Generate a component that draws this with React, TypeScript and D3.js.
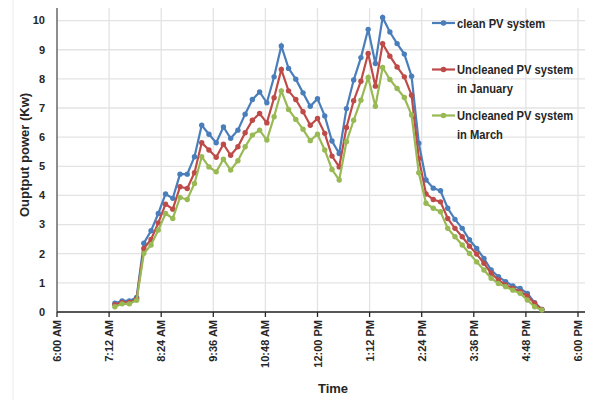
import React from "react";
import * as d3 from "d3";

const times = [
  "7:20","7:30","7:40","7:50","8:00","8:10","8:20","8:30","8:40","8:50",
  "9:00","9:10","9:20","9:30","9:40","9:50","10:00","10:10","10:20","10:30",
  "10:40","10:50","11:00","11:10","11:20","11:30","11:40","11:50","12:00","12:10",
  "12:20","12:30","12:40","12:50","13:00","13:10","13:20","13:30","13:40","13:50",
  "14:00","14:10","14:20","14:30","14:40","14:50","15:00","15:10","15:20","15:30",
  "15:40","15:50","16:00","16:10","16:20","16:30","16:40","16:50","17:00","17:10",
];

const cleanPV = [
  0.30, 0.38, 0.38, 0.50, 2.36, 2.79, 3.38, 4.05, 3.90, 4.73,
  4.73, 5.33, 6.41, 6.10, 5.81, 6.35, 5.96, 6.24, 6.79, 7.29,
  7.55, 7.18, 8.07, 9.13, 8.36, 7.99, 7.52, 7.06, 7.32, 6.73,
  5.87, 5.44, 6.98, 7.96, 8.73, 9.70, 8.53, 10.11, 9.61, 9.21,
  8.85, 8.09, 5.79, 4.53, 4.25, 4.16, 3.56, 3.18, 2.87, 2.48,
  2.18, 1.84, 1.44, 1.21, 1.04, 0.89, 0.81, 0.64, 0.32, 0.09,
];

const uncleanedJanuary = [
  0.25, 0.33, 0.33, 0.45, 2.18, 2.49, 3.06, 3.70, 3.53, 4.30,
  4.24, 4.78, 5.81, 5.56, 5.31, 5.76, 5.38, 5.67, 6.15, 6.58,
  6.81, 6.49, 7.35, 8.32, 7.59, 7.29, 6.87, 6.41, 6.64, 6.13,
  5.35, 4.98, 6.33, 7.25, 7.92, 8.87, 7.75, 9.21, 8.78, 8.41,
  8.07, 7.44, 5.27, 4.05, 3.86, 3.78, 3.21, 2.87, 2.58, 2.26,
  1.99, 1.67, 1.33, 1.10, 0.93, 0.81, 0.70, 0.55, 0.30, 0.09,
];

const uncleanedMarch = [
  0.18, 0.28, 0.28, 0.40, 2.01, 2.30, 2.81, 3.38, 3.21, 3.93,
  3.86, 4.41, 5.33, 4.98, 4.81, 5.24, 4.87, 5.19, 5.67, 6.07,
  6.24, 5.90, 6.70, 7.59, 6.95, 6.61, 6.27, 5.88, 6.10, 5.56,
  4.89, 4.53, 5.84, 6.58, 7.27, 8.05, 7.06, 8.39, 7.98, 7.67,
  7.36, 6.76, 4.78, 3.73, 3.56, 3.44, 2.87, 2.58, 2.30, 2.01,
  1.72, 1.44, 1.16, 0.98, 0.87, 0.75, 0.64, 0.41, 0.18, 0.07,
];

const xTickLabels = [
  "6:00 AM","7:12 AM","8:24 AM","9:36 AM","10:48 AM","12:00 PM",
  "1:12 PM","2:24 PM","3:36 PM","4:48 PM","6:00 PM",
];
const yTicks = [0, 1, 2, 3, 4, 5, 6, 7, 8, 9, 10];

const seriesNames = [
  ["clean PV system"],
  ["Uncleaned PV system", "in January"],
  ["Uncleaned PV system", "in March"],
];
const seriesColors = ["#4A7EBB", "#BE4B48", "#98B954"];

const toMin = (s: string) => {
  const [h, m] = s.split(":").map(Number);
  return h * 60 + m;
};
const parseTick = (s: string) => {
  const [hm, ap] = s.split(" ");
  let [h, m] = hm.split(":").map(Number);
  if (ap === "PM" && h !== 12) h += 12;
  if (ap === "AM" && h === 12) h = 0;
  return h * 60 + m;
};

const FONT = "'Liberation Sans', Arial, sans-serif";
const TEXT = "#262626";

export default function App() {
  const W = 594, H = 400;
  const x = d3.scaleLinear().domain([360, 1080]).range([57, 578]);
  const y = d3.scaleLinear().domain([0, 10]).range([312, 20.6]);
  const plotTop = 8;
  const plotRight = 585;

  const allSeries = [cleanPV, uncleanedJanuary, uncleanedMarch];
  const tmins = times.map(toMin);
  const line = d3
    .line<number>()
    .x((_, i) => x(tmins[i]))
    .y((d) => y(d));

  const legendY = [23, 69.5, 115.5];

  return (
    <svg
      width={W}
      height={H}
      style={{ position: "absolute", left: 0, top: 0, background: "#fff" }}
      fontFamily={FONT}
    >
      <line x1={13} x2={13} y1={0} y2={H} stroke="#ececec" strokeWidth={1} />
      {yTicks.map((t) => (
        <line
          key={"hg" + t}
          x1={x(360)}
          x2={plotRight}
          y1={y(t)}
          y2={y(t)}
          stroke="#e3e3e3"
          strokeWidth={1.3}
        />
      ))}
      {xTickLabels.map((l) => (
        <line
          key={"vg" + l}
          x1={x(parseTick(l))}
          x2={x(parseTick(l))}
          y1={plotTop}
          y2={y(0)}
          stroke="#e3e3e3"
          strokeWidth={1.3}
        />
      ))}
      <line x1={x(360)} x2={x(360)} y1={plotTop} y2={y(0)} stroke="#595959" strokeWidth={1.3} />
      <line x1={x(360)} x2={plotRight} y1={y(0)} y2={y(0)} stroke="#262626" strokeWidth={1.5} />
      {xTickLabels.map((l) => (
        <line
          key={"xt" + l}
          x1={x(parseTick(l))}
          x2={x(parseTick(l))}
          y1={y(0)}
          y2={y(0) + 5}
          stroke="#262626"
          strokeWidth={1.3}
        />
      ))}
      {yTicks.map((t) => (
        <text
          key={"yl" + t}
          x={45}
          y={y(t)}
          dy="0.35em"
          textAnchor="end"
          fontSize={11}
          fontWeight="bold"
          fill={TEXT}
        >
          {t}
        </text>
      ))}
      {xTickLabels.map((l) => {
        const px = x(parseTick(l));
        return (
          <text
            key={"xl" + l}
            transform={`translate(${px + 4},${y(0) + 8}) rotate(-90)`}
            textAnchor="end"
            fontSize={11}
            fontWeight="bold"
            fill={TEXT}
          >
            {l}
          </text>
        );
      })}
      <text
        transform={`translate(29,155) rotate(-90)`}
        textAnchor="middle"
        fontSize={13}
        fontWeight="bold"
        fill={TEXT}
      >
        Ouptput power (Kw)
      </text>
      <text x={333} y={393} textAnchor="middle" fontSize={13} fontWeight="bold" fill={TEXT}>
        Time
      </text>
      {allSeries.map((s, si) => (
        <g key={"s" + si}>
          <path d={line(s) || ""} fill="none" stroke={seriesColors[si]} strokeWidth={2.2} />
          {s.map((v, i) => (
            <circle
              key={i}
              cx={x(tmins[i])}
              cy={y(v)}
              r={2.7}
              fill={seriesColors[si]}
            />
          ))}
        </g>
      ))}
      {seriesNames.map((names, si) => (
        <g key={"lg" + si}>
          <line
            x1={432}
            x2={455}
            y1={legendY[si]}
            y2={legendY[si]}
            stroke={seriesColors[si]}
            strokeWidth={2.2}
          />
          <circle cx={443.5} cy={legendY[si]} r={2.8} fill={seriesColors[si]} />
          {names.map((n, ni) => (
            <text
              key={ni}
              transform={`translate(457,${legendY[si] + 4.5 + ni * 19}) scale(0.86,1)`}
              fontSize={13}
              fontWeight="bold"
              fill={TEXT}
            >
              {n}
            </text>
          ))}
        </g>
      ))}
    </svg>
  );
}
